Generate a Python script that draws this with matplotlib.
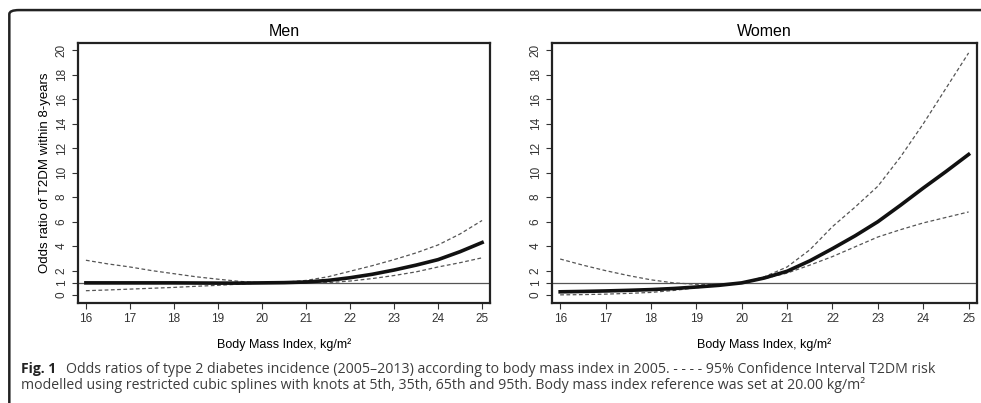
import numpy as np
import matplotlib.pyplot as plt
from matplotlib.patches import FancyBboxPatch

# values, BMI every 0.5
bmi = [16, 16.5, 17, 17.5, 18, 18.5, 19, 19.5, 20, 20.5,
       21, 21.5, 22, 22.5, 23, 23.5, 24, 24.5, 25]

men_or = [1.0, 1.0, 1.0, 1.0, 1.0, 0.99, 0.98, 0.98, 1.0, 1.02,
          1.07, 1.2, 1.42, 1.7, 2.05, 2.45, 2.9, 3.55, 4.3]
men_hi = [2.85, 2.55, 2.3, 2.0, 1.75, 1.5, 1.3, 1.12, 1.0, 1.05,
          1.2, 1.5, 1.95, 2.4, 2.9, 3.45, 4.1, 5.0, 6.1]
men_lo = [0.36, 0.42, 0.49, 0.56, 0.63, 0.72, 0.8, 0.9, 1.0, 0.99,
          0.97, 1.02, 1.15, 1.35, 1.6, 1.9, 2.3, 2.65, 3.05]

women_or = [0.27, 0.3, 0.34, 0.39, 0.45, 0.54, 0.66, 0.8, 1.0, 1.4,
            1.95, 2.8, 3.8, 4.85, 6.0, 7.35, 8.75, 10.1, 11.5]
women_hi = [2.95, 2.45, 2.0, 1.6, 1.25, 1.0, 0.88, 0.88, 1.0, 1.5,
            2.3, 3.7, 5.6, 7.2, 8.9, 11.3, 14.0, 16.9, 19.8]
women_lo = [0.02, 0.04, 0.08, 0.14, 0.22, 0.38, 0.6, 0.8, 1.0, 1.35,
            1.8, 2.45, 3.15, 3.95, 4.75, 5.35, 5.9, 6.35, 6.8]

yticks = [0, 1, 2, 4, 6, 8, 10, 12, 14, 16, 18, 20]
xticks = [16, 17, 18, 19, 20, 21, 22, 23, 24, 25]

plt.rcParams['font.family'] = ['Liberation Sans', 'DejaVu Sans']

fig = plt.figure(figsize=(9.81, 4.03), dpi=100)

# rounded frame around the figure (runs off right/bottom edge)
frame = FancyBboxPatch((0.0095, -0.2), 1.2, 1.175, boxstyle="round,pad=0,rounding_size=0.01",
                       transform=fig.transFigure, fill=False, lw=1.8, ec='#222222')
fig.patches.append(frame)

axm = fig.add_axes([0.0795, 0.248, 0.42, 0.645])
axw = fig.add_axes([0.5627, 0.248, 0.433, 0.645])

for ax, name, y, hi, lo in [(axm, 'Men', men_or, men_hi, men_lo),
                            (axw, 'Women', women_or, women_hi, women_lo)]:
    ax.axhline(1, color='#555555', lw=0.9)
    ax.plot(bmi, hi, color='#555555', lw=0.9, ls=(0, (3, 2)))
    ax.plot(bmi, lo, color='#555555', lw=0.9, ls=(0, (3, 2)))
    ax.plot(bmi, y, color='#111111', lw=2.6)
    ax.set_xlim(15.82, 25.18)
    ax.set_ylim(-0.65, 20.6)
    ax.set_xticks(xticks)
    ax.set_yticks(yticks)
    ax.set_yticklabels([str(t) for t in yticks], rotation=90, va='center')
    ax.tick_params(labelsize=8.5, length=4, width=0.8, color='#333333', labelcolor='#333333')
    for s in ax.spines.values():
        s.set_linewidth(1.6)
        s.set_color('#222222')
    ax.set_title(name, fontsize=11.5, pad=5)
    ax.set_xlabel('Body Mass Index, kg/m\u00b2', fontsize=9, labelpad=9)

axm.set_ylabel('Odds ratio of T2DM within 8-years', fontsize=9.5, labelpad=3)

cap_col = '#3c3c3c'
fig.text(0.021, 0.0744, 'Fig. 1', fontsize=10, fontweight='bold', color='#222222', family='Open Sans')
fig.text(0.067, 0.0744, 'Odds ratios of type 2 diabetes incidence (2005\u20132013) according to body mass index in 2005. - - - - 95% Confidence Interval T2DM risk',
         fontsize=10.2, color=cap_col, family='Open Sans')
fig.text(0.021, 0.035, 'modelled using restricted cubic splines with knots at 5th, 35th, 65th and 95th. Body mass index reference was set at 20.00 kg/m\u00b2',
         fontsize=10.2, color=cap_col, family='Open Sans')

fig.savefig('out.png', dpi=100)
